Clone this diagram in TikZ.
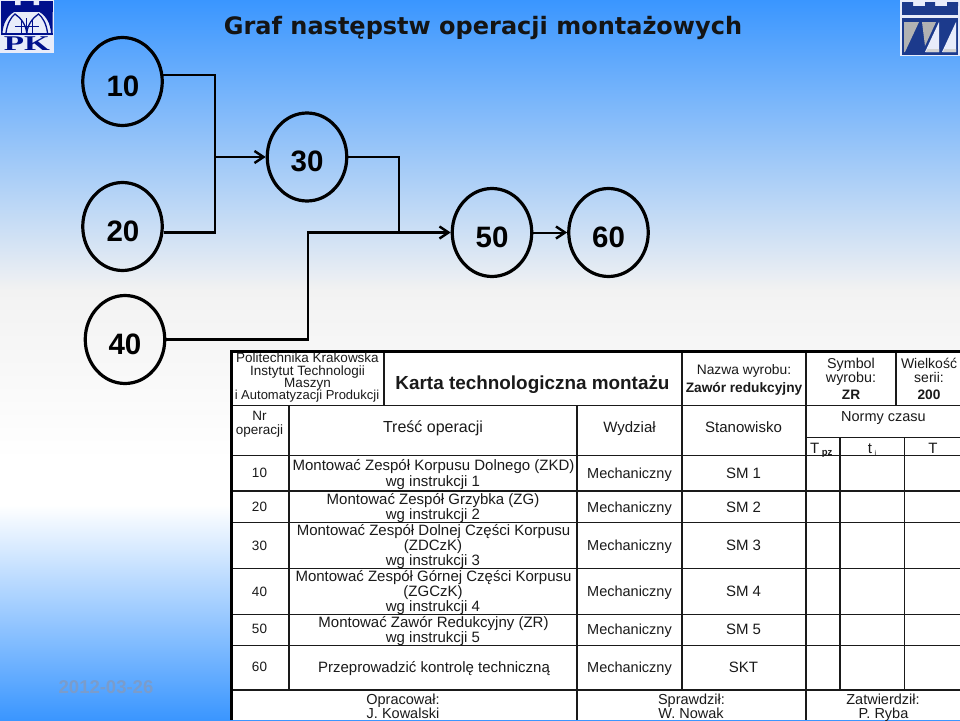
\documentclass[tikz,border=0pt]{standalone}
\usepackage{graphicx}
\usepackage{fontspec}
\setmainfont{Liberation Sans}
\newfontfamily\titlefont{DejaVu Sans}
\newfontfamily\logofont{Liberation Serif}
\usetikzlibrary{shapes.geometric,arrows.meta}
\definecolor{skyb}{HTML}{3A96FF}
\definecolor{pale}{HTML}{F2F2F2}
\definecolor{pkblue}{HTML}{00108C}
\definecolor{itblue}{HTML}{1C3A8C}
\definecolor{inkc}{HTML}{1A1A1A}
\definecolor{datec}{HTML}{7A9CCB}
\definecolor{logow}{HTML}{E8ECFA}
\tikzset{
 x=1pt,y=-1pt,
 opnode/.style={ellipse,draw=black,line width=3.2pt,minimum width=79.5pt,minimum height=88pt,inner sep=0pt},
 oplabel/.style={font=\fontsize{29.5}{30}\selectfont\bfseries,text=black,inner sep=0pt},
 link/.style={draw=black,line width=2.7pt,line cap=butt},
 arrowlink/.style={link,-{Straight Barb[length=9pt,width=12pt,line width=2.4pt]}},
 thin grid/.style={draw=inkc,line width=1.3pt},
 thick grid/.style={draw=black,line width=3pt},
 cell/.style={inner sep=0pt,text=inkc,align=center,text height=10.5pt,text depth=0pt,font=\fontsize{15}{16}\selectfont},
 mid cell/.style={cell,font=\fontsize{14.5}{15}\selectfont},
 small cell/.style={cell,text height=9.6pt,font=\fontsize{13.5}{14}\selectfont},
 hb/.style={cell,text height=9.8pt,font=\fontsize{13.7}{14}\selectfont\bfseries},
}
\begin{document}
\begin{tikzpicture}
\useasboundingbox (0,0) rectangle (960,720);
% background
\shade[top color=skyb,bottom color=pale] (0,0) rectangle (960,290.5);
\shade[top color=pale,bottom color=white] (0,290) rectangle (960,460.5);
\fill[white] (0,460) rectangle (960,505.5);
\shade[top color=white,bottom color=skyb] (0,505) rectangle (960,720);
% title
\node[inner sep=0pt,text height=17.5pt,text depth=0pt,font=\titlefont\fontsize{24}{26}\selectfont\bfseries,text=black!92] (title) at (483,26) {Graf następstw operacji montażowych};
% PK logo
\fill[logow] (0,0) rectangle (53.5,52.5);
\fill[pkblue] (1,1) rectangle (52.5,12);
\fill[logow] (15,0.5) rectangle (20.5,5) (33.5,0.5) rectangle (39,5);
\fill[pkblue] (1,33) rectangle (52.5,35);
\fill[pkblue] (1,12) -- (14,12) .. controls (7,16) and (3,24) .. (2.5,33) -- (1,33) -- cycle;
\fill[pkblue] (52.5,12) -- (39.5,12) .. controls (46.5,16) and (50.5,24) .. (51,33) -- (52.5,33) -- cycle;
\draw[pkblue,line width=1.3pt] (6,33) .. controls (7,24) and (11,17) .. (15,14) .. controls (21,18) and (26,25) .. (26.7,33);
\draw[pkblue,line width=1.3pt] (47.5,33) .. controls (46.5,24) and (42.5,17) .. (38.5,14) .. controls (32.5,18) and (27.5,25) .. (26.8,33);
\draw[pkblue,line width=.8pt] (21,20) -- (21,33) (26.8,18) -- (26.8,33) (32.5,20) -- (32.5,33) (15,26) -- (38.5,26);
\node[inner sep=0pt,text height=14.5pt,text depth=0pt,text=pkblue,font=\logofont\fontsize{21}{21}\selectfont\bfseries] (pk) at (27,43) {\scalebox{1.58}[1]{PK}};
% IT logo
\fill[logow] (899.5,0) rectangle (960,56);
\fill[itblue] (902,2) rectangle (913,6) (925,2) rectangle (935,6) (947,2) rectangle (958,6);
\fill[itblue] (901.5,6) rectangle (958,15);
\fill[itblue] (901.5,18) rectangle (958,55);
\fill[gray!60] (904,22) -- (919,22) -- (905,52) -- (904,52) -- cycle;
\fill[gray!60] (922,22) -- (936,22) -- (925,46) -- cycle;
\fill[logow] (925,52) -- (939,52) -- (939,22) -- cycle;
\fill[logow] (942,52) -- (956,52) -- (956,22) -- cycle;
\fill[gray!35] (926,52) -- (939,52) -- (939,49) -- (927.5,49) -- cycle;
\fill[gray!35] (943,52) -- (956,52) -- (956,49) -- (944.5,49) -- cycle;
% date
\node[inner sep=0pt,font=\fontsize{18.5}{19}\selectfont\bfseries,text=datec] (date) at (106,687) {2012-03-26};
% graph
\node[opnode] (n10) at (122.5,81.5) {};
\node[opnode] (n20) at (122.5,226.5) {};
\node[opnode] (n30) at (307,157) {};
\node[opnode] (n40) at (125,339.5) {};
\node[opnode] (n50) at (492,232.5) {};
\node[opnode] (n60) at (608.5,232.5) {};
\node[oplabel] (l10) at (123,86) {10};
\node[oplabel] (l20) at (123,231) {20};
\node[oplabel] (l30) at (307,161.5) {30};
\node[oplabel] (l40) at (125,344.5) {40};
\node[oplabel] (l50) at (492,237) {50};
\node[oplabel] (l60) at (608.5,237) {60};
\coordinate (joinA) at (215,157);
\coordinate (joinB) at (399,232.5);
\coordinate (turnC) at (308,232.5);
\draw[link] (n10.9) -| (joinA);
\draw[link] (n20.-8) -| (joinA);
\draw[arrowlink] (joinA) -- (n30.west);
\draw[link] (n30.east) -| (joinB);
\draw[link] (n40.east) -| (turnC) -- (joinB);
\draw[arrowlink] (joinB) -- (n50.west);
\draw[arrowlink,line width=2pt] (n50.east) -- (n60.west);
% card
\fill[white] (231,351) rectangle (960,720);
\foreach \yy in {405.5,455.5,491,522.5,568.5,614.5,645.5,690}
  \draw[thin grid] (231,\yy) -- (960,\yy);
\draw[thin grid] (806,437.5) -- (960,437.5);
\foreach \xx in {384,682,806,896} \draw[thin grid] (\xx,351) -- (\xx,405.5);
\foreach \xx in {289,577,682,806} \draw[thin grid] (\xx,405.5) -- (\xx,690);
\foreach \xx in {840,904.5} \draw[thin grid] (\xx,437.5) -- (\xx,690);
\foreach \xx in {577,806} \draw[thin grid] (\xx,690) -- (\xx,720);
\draw[thick grid] (231.5,720) -- (231.5,351.5) -- (960,351.5);
% card header
\node[small cell] (h1) at (307.5,358) {Politechnika Krakowska};
\node[small cell] (h2) at (307.5,370.5) {Instytut Technologii};
\node[small cell] (h3) at (307.5,382.5) {Maszyn};
\node[small cell,font=\fontsize{13}{14}\selectfont] (h4) at (307,394.5) {i Automatyzacji Produkcji};
\node[cell,text height=13.5pt,font=\fontsize{18.9}{20}\selectfont\bfseries] (ct) at (532.5,382.5) {Karta technologiczna montażu};
\node[small cell,font=\fontsize{13.8}{14}\selectfont] (nw) at (744,370) {Nazwa wyrobu:};
\node[hb] (zw) at (744,388) {Zawór redukcyjny};
\node[cell,font=\fontsize{14.3}{15}\selectfont] (sy1) at (851,363) {Symbol};
\node[cell,font=\fontsize{14.3}{15}\selectfont] (sy2) at (851,377) {wyrobu:};
\node[hb] (sy3) at (851,395) {ZR};
\node[cell,font=\fontsize{14}{15}\selectfont] (ws1) at (929,363) {Wielkość};
\node[cell,font=\fontsize{14}{15}\selectfont] (ws2) at (929,377) {serii:};
\node[hb] (ws3) at (929,395) {200};
% column heads
\node[small cell] (nr1) at (259.5,416) {Nr};
\node[small cell] (nr2) at (259.5,430) {operacji};
\node[cell,text height=11.5pt,font=\fontsize{16}{17}\selectfont] (tr) at (433,427) {Treść operacji};
\node[cell] (wy) at (629.5,427) {Wydział};
\node[cell] (st) at (743.5,427) {Stanowisko};
\node[mid cell] (nc) at (883.5,416) {Normy czasu};
\node[cell,anchor=west] (tpz) at (810,448) {T\,\raisebox{-2pt}{\fontsize{9.5}{9}\selectfont\bfseries pz}};
\node[cell] (ti) at (872,448) {t\,\raisebox{-2pt}{\fontsize{7}{7}\selectfont i}};
\node[cell] (tt) at (933,448) {T};
% rows
\node[small cell] (a10) at (259.5,473) {10};
\node[small cell] (a20) at (259.5,507) {20};
\node[small cell] (a30) at (259.5,546) {30};
\node[small cell] (a40) at (259.5,592) {40};
\node[small cell] (a50) at (259.5,629) {50};
\node[small cell] (a60) at (259.5,667) {60};
\node[cell] (b11) at (433.5,465) {Montować Zespół Korpusu Dolnego (ZKD)};
\node[cell] (b12) at (433,481) {wg instrukcji 1};
\node[cell] (b21) at (433,499.5) {Montować Zespół Grzybka (ZG)};
\node[cell] (b22) at (433,514) {wg instrukcji 2};
\node[cell] (b31) at (433.5,530.5) {Montować Zespół Dolnej Części Korpusu};
\node[cell] (b32) at (433,545.5) {(ZDCzK)};
\node[cell] (b33) at (433,560) {wg instrukcji 3};
\node[cell] (b41) at (433.5,576.5) {Montować Zespół Górnej Części Korpusu};
\node[cell] (b42) at (433,591.5) {(ZGCzK)};
\node[cell] (b43) at (433,606) {wg instrukcji 4};
\node[cell] (b51) at (433.5,622.5) {Montować Zawór Redukcyjny (ZR)};
\node[cell] (b52) at (433,637) {wg instrukcji 5};
\node[cell] (b61) at (434,667) {Przeprowadzić kontrolę techniczną};
\foreach \nm/\yy in {c1/473,c2/507,c3/545.5,c4/591.5,c5/629,c6/667}
  \node[mid cell] (\nm) at (629.5,\yy) {Mechaniczny};
\node[cell] (d1) at (743.5,473) {SM 1};
\node[cell] (d2) at (743.5,507) {SM 2};
\node[cell] (d3) at (743.5,545.5) {SM 3};
\node[cell] (d4) at (743.5,591.5) {SM 4};
\node[cell] (d5) at (743.5,629) {SM 5};
\node[cell] (d6) at (743.5,667) {SKT};
% footer
\node[mid cell] (f1) at (403,699) {Opracował:};
\node[mid cell] (f2) at (403,713) {J. Kowalski};
\node[mid cell] (f3) at (691.5,699) {Sprawdził:};
\node[mid cell] (f4) at (691,713) {W. Nowak};
\node[mid cell] (f5) at (883,699) {Zatwierdził:};
\node[mid cell] (f6) at (883.5,713) {P. Ryba};
\end{tikzpicture}
\end{document}
